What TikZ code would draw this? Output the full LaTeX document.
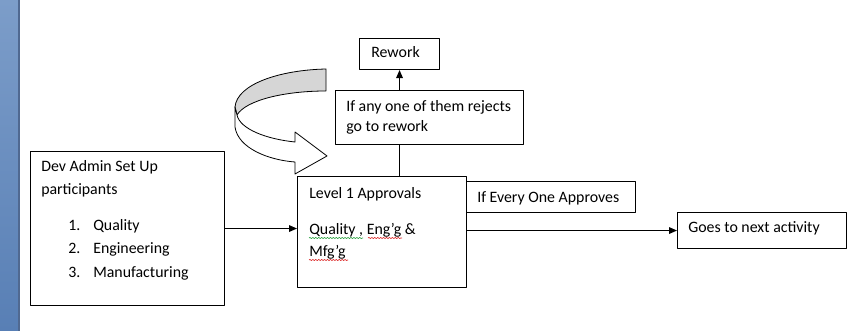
\documentclass[tikz,border=0pt]{standalone}
\usepackage{fontspec}
\setmainfont{Carlito}
\usetikzlibrary{arrows.meta,decorations.pathmorphing}

\definecolor{barlight}{RGB}{124,157,201}
\definecolor{bardark}{RGB}{88,127,181}
\definecolor{baredge}{RGB}{80,105,145}
\definecolor{backgray}{RGB}{214,214,214}
\definecolor{spellred}{RGB}{220,40,40}
\definecolor{spellgreen}{RGB}{40,160,60}

\tikzset{
  box/.style={draw, line width=0.8pt, inner sep=0pt, anchor=north west},
  txt/.style={inner sep=0pt, anchor=base west, font=\fontsize{11.9}{14}\selectfont},
  flow/.style={line width=0.8pt, -{Triangle[length=6pt,width=5pt]}},
  link/.style={line width=0.8pt},
  spell/.style={decorate, decoration={snake, amplitude=0.45pt, segment length=2.2pt}, line width=0.45pt},
}

\begin{document}
\begin{tikzpicture}[x=0.75pt,y=-0.75pt,line join=round]
  % Page frame of the screenshot.
  \useasboundingbox (0,0) rectangle (867,331);

  % Blue margin strip on the left.
  \shade[top color=barlight, bottom color=bardark] (0,0) rectangle (19,331);
  \fill[baredge] (18,0) rectangle (20,331);

  % Boxes, sized from the artwork.
  \node[box, minimum width=145.5pt, minimum height=115.5pt] (dev) at (30,151) {};
  \node[box, minimum width=126.75pt, minimum height=83.25pt] (lvl) at (297,176) {};
  \node[box, minimum width=126.75pt, minimum height=23.25pt] (every) at (466,181) {};
  \node[box, minimum width=126.75pt, minimum height=27pt] (goes) at (677,212) {};
  \node[box, minimum width=60pt, minimum height=23.25pt] (rework) at (359,38) {};
  \node[box, minimum width=141pt, minimum height=40.5pt] (rejects) at (335,90) {};

  % Box texts.
  \node[txt] (deva) at (41,172) {Dev Admin Set Up};
  \node[txt] (devb) at (41,195) {participants};
  \node[txt] (num1) at (68,231) {1.};
  \node[txt] (num2) at (68,254) {2.};
  \node[txt] (num3) at (68,277) {3.};
  \node[txt] (item1) at (93,231) {Quality};
  \node[txt] (item2) at (93,254) {Engineering};
  \node[txt] (item3) at (93,277) {Manufacturing};

  \node[txt] (lvla) at (309,199) {Level 1 Approvals};
  \node[txt] (lvlb) at (309,235) {Quality , Eng’g \&};
  \node[txt] (lvlc) at (309,257) {Mfg’g};

  \node[txt] (everyt) at (477,203) {If Every One Approves};
  \node[txt] (goest) at (688,233) {Goes to next activity};
  \node[txt] (reworkt) at (371,58) {Rework};
  \node[txt] (rejectsa) at (346,112) {If any one of them rejects};
  \node[txt] (rejectsb) at (346,132) {go to rework};

  % Spell-check squiggles under the approval text.
  \draw[spell, spellgreen] (309,238) -- (363,238);
  \draw[spell, spellred] (368,238) -- (402,238);
  \draw[spell, spellred] (309,260) -- (348,260);

  % Connectors.
  \draw[flow] (dev.east) -- (dev.east -| lvl.west);
  \draw[flow] (goes.west -| lvl.east) -- (goes.west);
  \draw[link] (lvl.north -| rework.south) -- (rejects.south -| rework.south);
  \draw[flow] (rejects.north -| rework.south) -- (rework.south);

  % Curved block arrow: grey back of the ribbon, then the white front.
  \filldraw[fill=backgray, line width=0.6pt]
    (326,69) .. controls (280,70) and (237,84) .. (235,107)
    -- (237,115) .. controls (246,100) and (285,91) .. (326,91) -- cycle;
  \filldraw[fill=white, line width=0.6pt]
    (235,107) -- (235,127) .. controls (238,148) and (268,160) .. (295,162)
    -- (295,174) -- (327,156) -- (295,132) -- (295,142)
    .. controls (266,139) and (240,129) .. (237,115) -- cycle;
\end{tikzpicture}
\end{document}
